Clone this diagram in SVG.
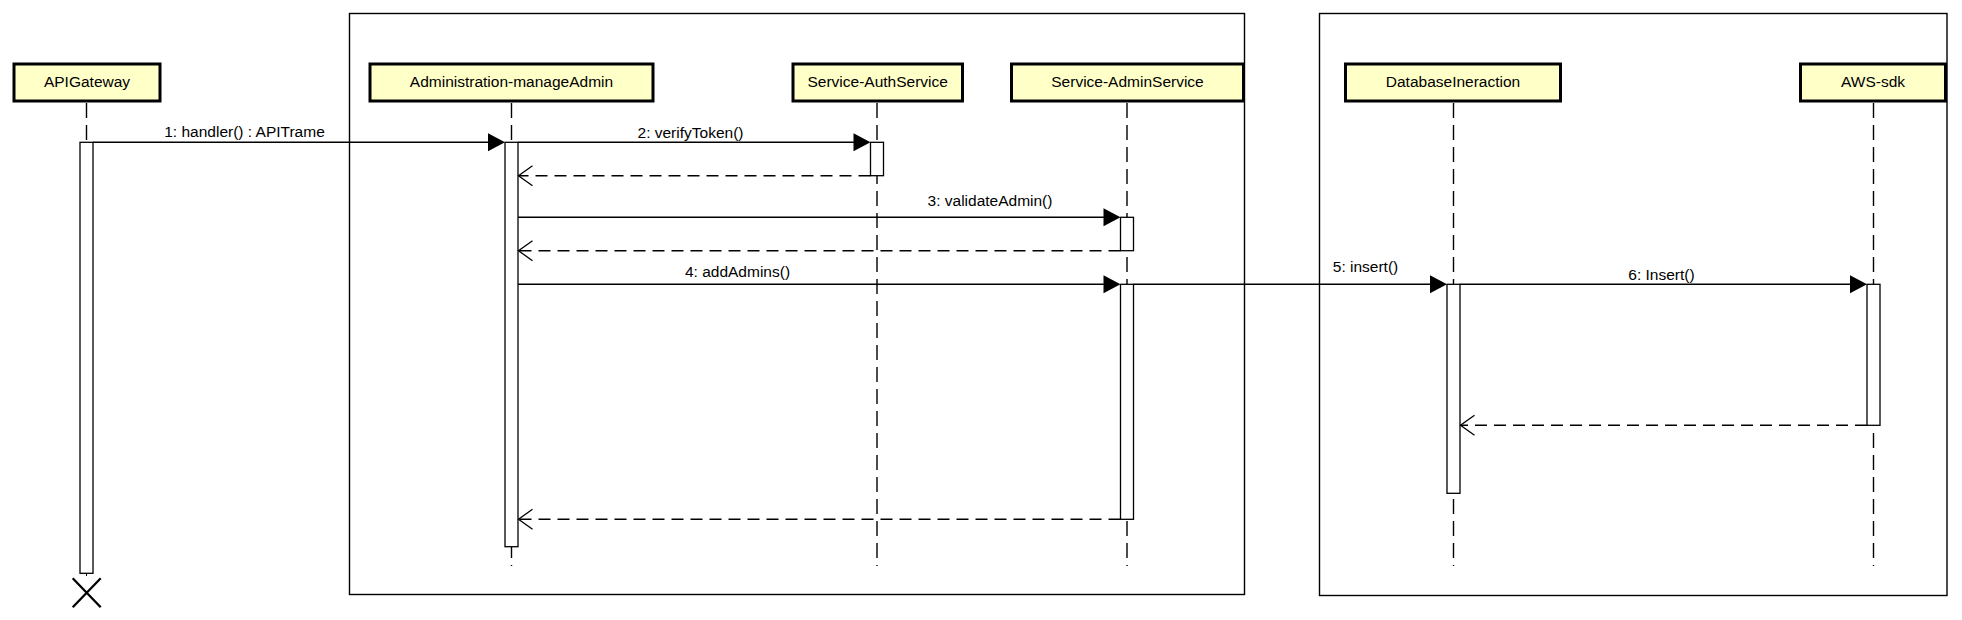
<svg xmlns="http://www.w3.org/2000/svg" width="1962" height="620" viewBox="0 0 1962 620">
<style>
.frame{fill:none;stroke:#000;stroke-width:1.4}
.box{fill:#FFFFC8;stroke:#000;stroke-width:3}
.lbl{font-family:"Liberation Sans",Arial,sans-serif;font-size:15.5px;fill:#000;text-anchor:middle}
.life{stroke:#000;stroke-width:1.4;stroke-dasharray:15 7;fill:none}
.act{fill:#fff;stroke:#000;stroke-width:1.3}
.msg{stroke:#000;stroke-width:1.4;fill:none}
.ret{stroke:#000;stroke-width:1.4;fill:none;stroke-dasharray:12 7}
.head{fill:#000;stroke:none}
.open{fill:none;stroke:#000;stroke-width:1.3}
</style>
<rect width="1962" height="620" fill="#fff"/>
<g id="frames">
<rect class="frame" x="349.5" y="13.5" width="895" height="581"/>
<rect class="frame" x="1319.5" y="13.5" width="627.5" height="582"/>
</g>
<g id="lifelines">
<line class="life" x1="86.5" y1="103" x2="86.5" y2="142"/>
<line class="life" x1="511.5" y1="103" x2="511.5" y2="566"/>
<line class="life" x1="877" y1="103" x2="877" y2="566"/>
<line class="life" x1="1127" y1="103" x2="1127" y2="566"/>
<line class="life" x1="1453.5" y1="103" x2="1453.5" y2="566"/>
<line class="life" x1="1873.5" y1="103" x2="1873.5" y2="566"/>
</g>
<g id="APIGateway">
<rect class="box" x="14" y="64" width="146" height="37"/>
<text class="lbl" x="87" y="87">APIGateway</text>
<rect class="act" x="80" y="142.3" width="13" height="431"/>
<line x1="86.5" y1="573.3" x2="86.5" y2="576" stroke="#000" stroke-width="1"/>
<path d="M72.7,578.3 L100.7,607.3 M100.7,578.3 L72.7,607.3" stroke="#000" stroke-width="2.3" fill="none"/>
</g>
<g id="Administration-manageAdmin">
<rect class="box" x="370" y="64" width="283" height="37"/>
<text class="lbl" x="511.5" y="87">Administration-manageAdmin</text>
<rect class="act" x="505" y="142.3" width="13" height="404.4"/>
</g>
<g id="Service-AuthService">
<rect class="box" x="793" y="64" width="169.5" height="37"/>
<text class="lbl" x="877.7" y="87">Service-AuthService</text>
<rect class="act" x="870.5" y="142.3" width="13" height="33.4"/>
</g>
<g id="Service-AdminService">
<rect class="box" x="1011.5" y="64" width="232" height="37"/>
<text class="lbl" x="1127.5" y="87">Service-AdminService</text>
<rect class="act" x="1120.5" y="217.3" width="13" height="33.4"/>
<rect class="act" x="1120.5" y="284.3" width="13" height="235"/>
</g>
<g id="DatabaseIneraction">
<rect class="box" x="1345.5" y="64" width="215" height="37"/>
<text class="lbl" x="1453" y="87">DatabaseIneraction</text>
<rect class="act" x="1447" y="284.3" width="13" height="209"/>
</g>
<g id="AWS-sdk">
<rect class="box" x="1800.5" y="64" width="145" height="37"/>
<text class="lbl" x="1873" y="87">AWS-sdk</text>
<rect class="act" x="1867" y="284.3" width="13" height="141"/>
</g>
<g id="connectors">
<line class="msg" x1="93" y1="142.3" x2="490" y2="142.3"/>
<path class="head" d="M505,142.3 L488,133.3 L488,151.3 Z"/>
<text class="lbl" x="244.5" y="137.3">1: handler() : APITrame</text>

<line class="msg" x1="518" y1="142.3" x2="856" y2="142.3"/>
<path class="head" d="M870.5,142.3 L853.5,133.3 L853.5,151.3 Z"/>
<text class="lbl" x="690.5" y="137.5">2: verifyToken()</text>

<line class="ret" x1="870.5" y1="175.7" x2="518.5" y2="175.7"/>
<path class="open" d="M532.5,165.7 L518.5,175.7 L532.5,185.7"/>

<line class="msg" x1="518" y1="217.3" x2="1106" y2="217.3"/>
<path class="head" d="M1120.5,217.3 L1103.5,208.3 L1103.5,226.3 Z"/>
<text class="lbl" x="990" y="205.5">3: validateAdmin()</text>

<line class="ret" x1="1120.5" y1="250.7" x2="518.5" y2="250.7"/>
<path class="open" d="M532.5,240.7 L518.5,250.7 L532.5,260.7"/>

<line class="msg" x1="518" y1="284.3" x2="1106" y2="284.3"/>
<path class="head" d="M1120.5,284.3 L1103.5,275.3 L1103.5,293.3 Z"/>
<text class="lbl" x="737.5" y="276.5">4: addAdmins()</text>

<line class="msg" x1="1133.5" y1="284.3" x2="1432" y2="284.3"/>
<path class="head" d="M1447,284.3 L1430,275.3 L1430,293.3 Z"/>
<text class="lbl" x="1365.5" y="271.7">5: insert()</text>

<line class="msg" x1="1460" y1="284.3" x2="1852" y2="284.3"/>
<path class="head" d="M1867,284.3 L1850,275.3 L1850,293.3 Z"/>
<text class="lbl" x="1661.5" y="279.7">6: Insert()</text>

<line class="ret" x1="1867" y1="425.3" x2="1460.5" y2="425.3"/>
<path class="open" d="M1474.5,415.3 L1460.5,425.3 L1474.5,435.3"/>

<line class="ret" x1="1120.5" y1="519.3" x2="518.5" y2="519.3"/>
<path class="open" d="M532.5,509.3 L518.5,519.3 L532.5,529.3"/>
</g>
</svg>
